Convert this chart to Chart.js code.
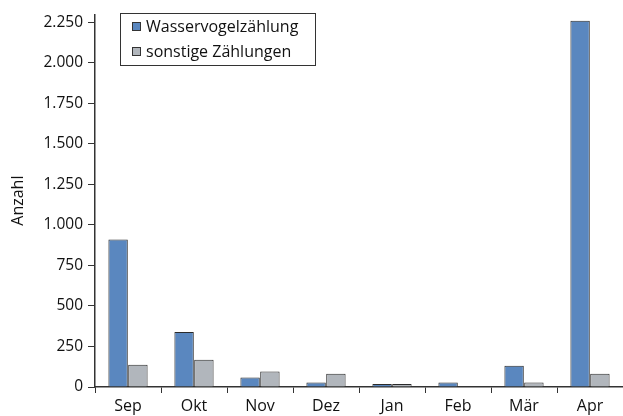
<!DOCTYPE html>
<html><head><meta charset="utf-8">
<script src="https://cdn.jsdelivr.net/npm/chart.js@4"></script>
<style>html,body{margin:0;padding:0;background:#fff}#wrap{width:623px;height:416px}</style>
</head><body><div id="wrap"><canvas id="c" width="623" height="416"></canvas></div>
<script>
const categories = ["Sep","Okt","Nov","Dez","Jan","Feb","Mär","Apr"];
const wasservogel = [910, 340, 58, 27, 18, 27, 131, 2260];
const sonstige = [138, 168, 96, 82, 18, 0, 27, 82];
const seriesLabels = ["Wasservogelzählung", "sonstige Zählungen"];
const yTickValues = [0,250,500,750,1000,1250,1500,1750,2000,2250];

const FONT = "'Open Sans', 'Noto Sans', sans-serif";
const fmt = v => String(v).replace(/\B(?=(\d{3})+(?!\d))/g, ".");

const legendPlugin = {
  id: 'boxLegend',
  afterDraw(chart) {
    const ctx = chart.ctx;
    ctx.save();
    const x0 = 120.5, y0 = 13.5, w = 195, h = 52;
    ctx.fillStyle = '#fff';
    ctx.fillRect(x0, y0, w, h);
    ctx.strokeStyle = '#333'; ctx.lineWidth = 1;
    ctx.strokeRect(x0, y0, w, h);
    ctx.font = "16px " + FONT;
    ctx.textBaseline = 'middle';
    chart.data.datasets.forEach((ds, i) => {
      const cy = 27 + i * 25;
      ctx.fillStyle = ds.backgroundColor;
      ctx.fillRect(132.5, cy - 4.5, 8, 8);
      ctx.strokeStyle = '#333';
      ctx.strokeRect(132.5, cy - 4.5, 8, 8);
      ctx.fillStyle = '#111';
      ctx.fillText(ds.label, 146, cy + 0.5);
    });
    ctx.restore();
  }
};

new Chart(document.getElementById('c'), {
  type: 'bar',
  data: {
    labels: categories,
    datasets: [
      { label: seriesLabels[0], data: wasservogel, backgroundColor: '#5a87bf', borderColor: '#2b2b2b', borderWidth: 1 },
      { label: seriesLabels[1], data: sonstige, backgroundColor: '#b1b6bc', borderColor: '#2b2b2b', borderWidth: 1 }
    ]
  },
  options: {
    responsive: false,
    animation: false,
    devicePixelRatio: 1,
    layout: { padding: { top: 13, right: 0, left: 0, bottom: 0 } },
    datasets: { bar: { categoryPercentage: 0.6, barPercentage: 0.98 } },
    plugins: { legend: { display: false }, tooltip: { enabled: false } },
    scales: {
      x: {
        grid: { display: true, drawOnChartArea: false, drawTicks: true, tickLength: 6, color: '#333', offset: true },
        border: { display: true, color: '#333', width: 1.5 },
        ticks: { color: '#111', font: { family: FONT, size: 16 }, padding: 4 },
        afterFit(s) { s.height = 29; }
      },
      y: {
        min: 0, max: 2300,
        afterBuildTicks(s) { s.ticks = yTickValues.map(v => ({ value: v })); },
        grid: { display: true, drawOnChartArea: false, drawTicks: true, tickLength: 7, color: '#333' },
        border: { display: true, color: '#333', width: 1.5 },
        ticks: { color: '#111', font: { family: FONT, size: 15.5 }, padding: 5, callback: v => fmt(v) },
        title: { display: true, text: 'Anzahl', color: '#111', font: { family: FONT, size: 16 }, padding: { top: 9, bottom: 0 } },
        afterFit(s) { s.width = 95; }
      }
    }
  },
  plugins: [legendPlugin]
});
</script></body></html>
